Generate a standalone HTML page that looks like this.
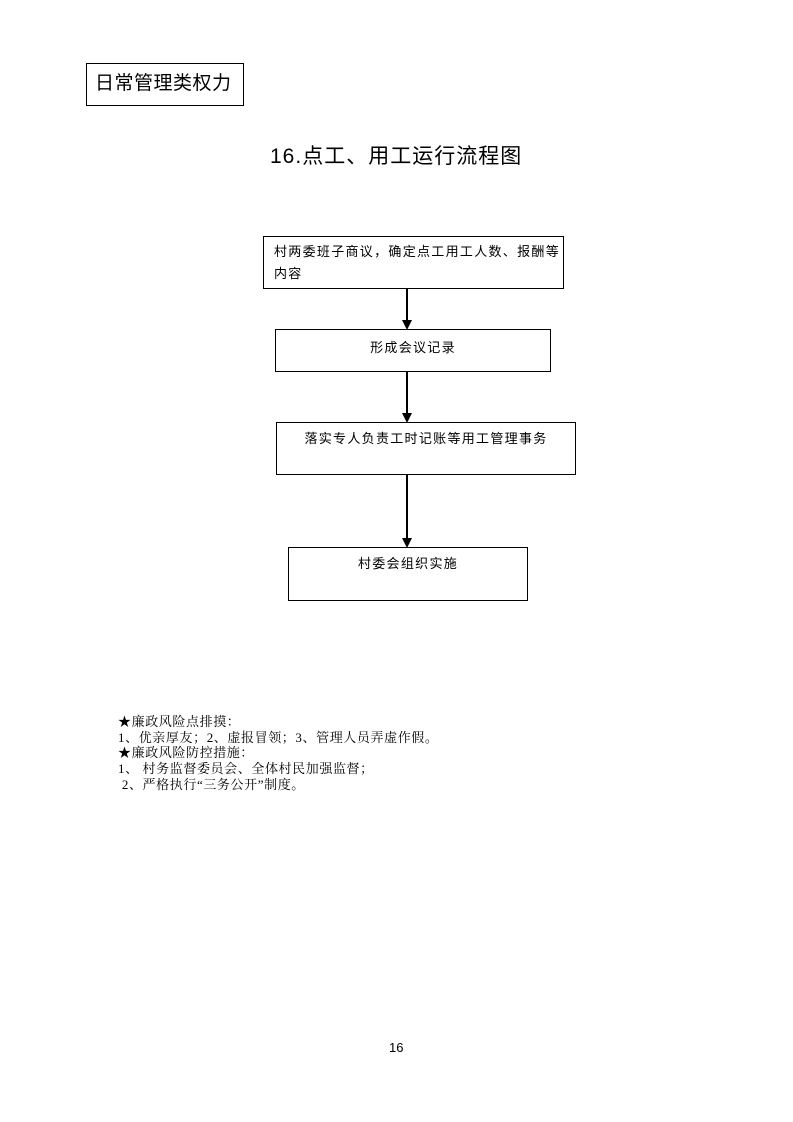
<!DOCTYPE html>
<html><head><meta charset="utf-8"><style>
body{margin:0;width:793px;height:1122px;background:#fff;position:relative;font-family:"Liberation Sans","Noto Sans CJK SC",sans-serif;color:#000}
.a{position:absolute}
.box{position:absolute;border:1.5px solid #000;box-sizing:border-box;font-size:13px;line-height:22px;letter-spacing:1.3px}
.n{position:absolute;left:118px;font-family:"Liberation Serif","Noto Serif CJK SC",serif;font-size:13px;line-height:15.7px;letter-spacing:0.6px}
</style></head><body>
<div class="box" style="left:86px;top:63px;width:158px;height:43px;font-size:19px;line-height:40px;padding-left:8px;letter-spacing:0.5px">日常管理类权力</div>
<div class="a" style="left:270px;top:140px;font-size:21px;letter-spacing:1px">16.点工、用工运行流程图</div>
<div class="box" style="left:263px;top:236px;width:301px;height:53px;padding:4px 0 0 10px">村两委班子商议，确定点工用工人数、报酬等<br>内容</div>
<div class="box" style="left:275px;top:329px;width:276px;height:43px;text-align:center;padding-top:7px">形成会议记录</div>
<div class="box" style="left:276px;top:422px;width:300px;height:53px;text-align:center;padding-top:5px">落实专人负责工时记账等用工管理事务</div>
<div class="box" style="left:288px;top:547px;width:240px;height:54px;text-align:center;padding-top:5px">村委会组织实施</div>
<svg class="a" style="left:0;top:0" width="793" height="1122">
<g stroke="#000" stroke-width="2"><line x1="407" y1="289" x2="407" y2="322"/><line x1="407" y1="372" x2="407" y2="415"/><line x1="407" y1="475" x2="407" y2="540"/></g>
<g fill="#000"><polygon points="402,320 412,320 407,330"/><polygon points="402,413 412,413 407,423"/><polygon points="402,538 412,538 407,548"/></g>
</svg>
<div class="n" style="top:714px">★廉政风险点排摸：<br>1、优亲厚友；2、虚报冒领；3、管理人员弄虚作假。<br>★廉政风险防控措施：<br>1、 村务监督委员会、全体村民加强监督；<br>&nbsp;2、严格执行“三务公开”制度。</div>
<div class="a" style="left:389px;top:1040px;font-size:13px">16</div>
</body></html>
